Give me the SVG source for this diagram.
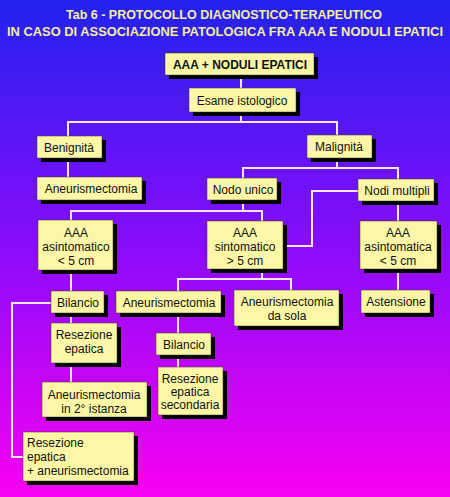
<svg xmlns="http://www.w3.org/2000/svg" width="450" height="497" viewBox="0 0 450 497">
<defs>
<linearGradient id="bg" x1="0" y1="0" x2="0" y2="1">
<stop offset="0" stop-color="#2222ee"/>
<stop offset="0.5" stop-color="#8a0cfa"/>
<stop offset="1" stop-color="#f800f0"/>
</linearGradient>
</defs>
<style>
.box{fill:#fbf7a6;stroke:#3a3a20;stroke-width:0.5}
.sh{fill:#000}
.t{font-family:"Liberation Sans",Arial,sans-serif;font-size:12px;fill:#111;text-anchor:middle}
.tl{text-anchor:start}
.b{font-weight:bold}
.title{font-family:"Liberation Sans",Arial,sans-serif;font-size:12.5px;font-weight:bold;fill:#f2eea0;text-anchor:middle}
.c{fill:none;stroke:#f6e6f6;stroke-width:2}
</style>
<rect x="0" y="0" width="450" height="497" fill="url(#bg)"/>
<text class="title" x="224" y="19" textLength="316" lengthAdjust="spacingAndGlyphs">Tab 6 - PROTOCOLLO DIAGNOSTICO-TERAPEUTICO</text>
<text class="title" x="225" y="36" textLength="436" lengthAdjust="spacingAndGlyphs">IN CASO DI ASSOCIAZIONE PATOLOGICA FRA AAA E NODULI EPATICI</text>

<g id="connectors">
<path class="c" d="M241,75 V88"/>
<path class="c" d="M241,112 V122 M68,136 V122 H337 V135"/>
<path class="c" d="M68,158 V177"/>
<path class="c" d="M337,158 V168 M243,178 V168 H398 V179"/>
<path class="c" d="M243,200 V211 M71,220 V211 H262 V221"/>
<path class="c" d="M358,191 H312 V246 H283"/>
<path class="c" d="M398,201 V221"/>
<path class="c" d="M398,269 V290"/>
<path class="c" d="M262,269 V279 M178,291 V279 H291 V290"/>
<path class="c" d="M71,270 V291"/>
<path class="c" d="M51,303 H12 V457 H23"/>
<path class="c" d="M71,313 V323"/>
<path class="c" d="M71,363 V382"/>
<path class="c" d="M178,313 V333"/>
<path class="c" d="M178,355 V367"/>
</g>

<g id="n_root">
<rect class="sh" x="169" y="57" width="149" height="22"/>
<rect class="box" x="165" y="53" width="149" height="22"/>
<text class="t b" x="240" y="68.5">AAA + NODULI EPATICI</text>
</g>
<g id="n_esame">
<rect class="sh" x="193" y="92" width="107" height="24"/>
<rect class="box" x="189" y="88" width="107" height="24"/>
<text class="t" x="242" y="104.5">Esame istologico</text>
</g>
<g id="n_benign">
<rect class="sh" x="41" y="140" width="65" height="22"/>
<rect class="box" x="37" y="136" width="65" height="22"/>
<text class="t" x="69" y="151.5">Benignità</text>
</g>
<g id="n_malign">
<rect class="sh" x="311" y="139" width="65" height="23"/>
<rect class="box" x="307" y="135" width="65" height="23"/>
<text class="t" x="339" y="151">Malignità</text>
</g>
<g id="n_aneur1">
<rect class="sh" x="41" y="181" width="105" height="23"/>
<rect class="box" x="37" y="177" width="105" height="23"/>
<text class="t" x="91" y="193">Aneurismectomia</text>
</g>
<g id="n_nodounico">
<rect class="sh" x="211" y="182" width="70" height="22"/>
<rect class="box" x="207" y="178" width="70" height="22"/>
<text class="t" x="243" y="193.5">Nodo unico</text>
</g>
<g id="n_nodimultipli">
<rect class="sh" x="362" y="183" width="76" height="22"/>
<rect class="box" x="358" y="179" width="76" height="22"/>
<text class="t" x="397" y="194.5">Nodi multipli</text>
</g>
<g id="n_asint">
<rect class="sh" x="42" y="224" width="75" height="50"/>
<rect class="box" x="38" y="220" width="75" height="50"/>
<text class="t" x="76" y="237">AAA</text>
<text class="t" x="76" y="251">asintomatico</text>
<text class="t" x="76" y="265">&lt; 5 cm</text>
</g>
<g id="n_sint">
<rect class="sh" x="211" y="225" width="76" height="48"/>
<rect class="box" x="207" y="221" width="76" height="48"/>
<text class="t" x="245" y="237">AAA</text>
<text class="t" x="245" y="251">sintomatico</text>
<text class="t" x="245" y="265">&gt; 5 cm</text>
</g>
<g id="n_asinta">
<rect class="sh" x="364" y="225" width="77" height="48"/>
<rect class="box" x="360" y="221" width="77" height="48"/>
<text class="t" x="398" y="237">AAA</text>
<text class="t" x="398" y="251">asintomatica</text>
<text class="t" x="398" y="265">&lt; 5 cm</text>
</g>
<g id="n_astensione">
<rect class="sh" x="365" y="294" width="69" height="23"/>
<rect class="box" x="361" y="290" width="69" height="23"/>
<text class="t" x="396" y="306">Astensione</text>
</g>
<g id="n_bilancio1">
<rect class="sh" x="55" y="295" width="53" height="22"/>
<rect class="box" x="51" y="291" width="53" height="22"/>
<text class="t" x="78" y="306.5">Bilancio</text>
</g>
<g id="n_aneur2">
<rect class="sh" x="120" y="295" width="105" height="22"/>
<rect class="box" x="116" y="291" width="105" height="22"/>
<text class="t" x="169" y="306.5">Aneurismectomia</text>
</g>
<g id="n_aneursola">
<rect class="sh" x="238" y="294" width="105" height="36"/>
<rect class="box" x="234" y="290" width="105" height="36"/>
<text class="t" x="287" y="306">Aneurismectomia</text>
<text class="t" x="287" y="320">da sola</text>
</g>
<g id="n_resez1">
<rect class="sh" x="55" y="327" width="66" height="40"/>
<rect class="box" x="51" y="323" width="66" height="40"/>
<text class="t" x="84" y="339">Resezione</text>
<text class="t" x="84" y="353">epatica</text>
</g>
<g id="n_bilancio2">
<rect class="sh" x="160" y="337" width="55" height="22"/>
<rect class="box" x="156" y="333" width="55" height="22"/>
<text class="t" x="184" y="348.5">Bilancio</text>
</g>
<g id="n_resezsec">
<rect class="sh" x="162" y="371" width="65" height="48"/>
<rect class="box" x="158" y="367" width="65" height="48"/>
<text class="t" x="190" y="383">Resezione</text>
<text class="t" x="190" y="396">epatica</text>
<text class="t" x="190" y="409">secondaria</text>
</g>
<g id="n_aneur2ist">
<rect class="sh" x="46" y="386" width="105" height="35"/>
<rect class="box" x="42" y="382" width="105" height="35"/>
<text class="t" x="94" y="399">Aneurismectomia</text>
<text class="t" x="94" y="413">in 2° istanza</text>
</g>
<g id="n_resezaneur">
<rect class="sh" x="27" y="436" width="111" height="49"/>
<rect class="box" x="23" y="432" width="111" height="49"/>
<text class="t tl" x="27" y="447">Resezione</text>
<text class="t tl" x="27" y="461">epatica</text>
<text class="t tl" x="27" y="475">+ aneurismectomia</text>
</g>
</svg>
